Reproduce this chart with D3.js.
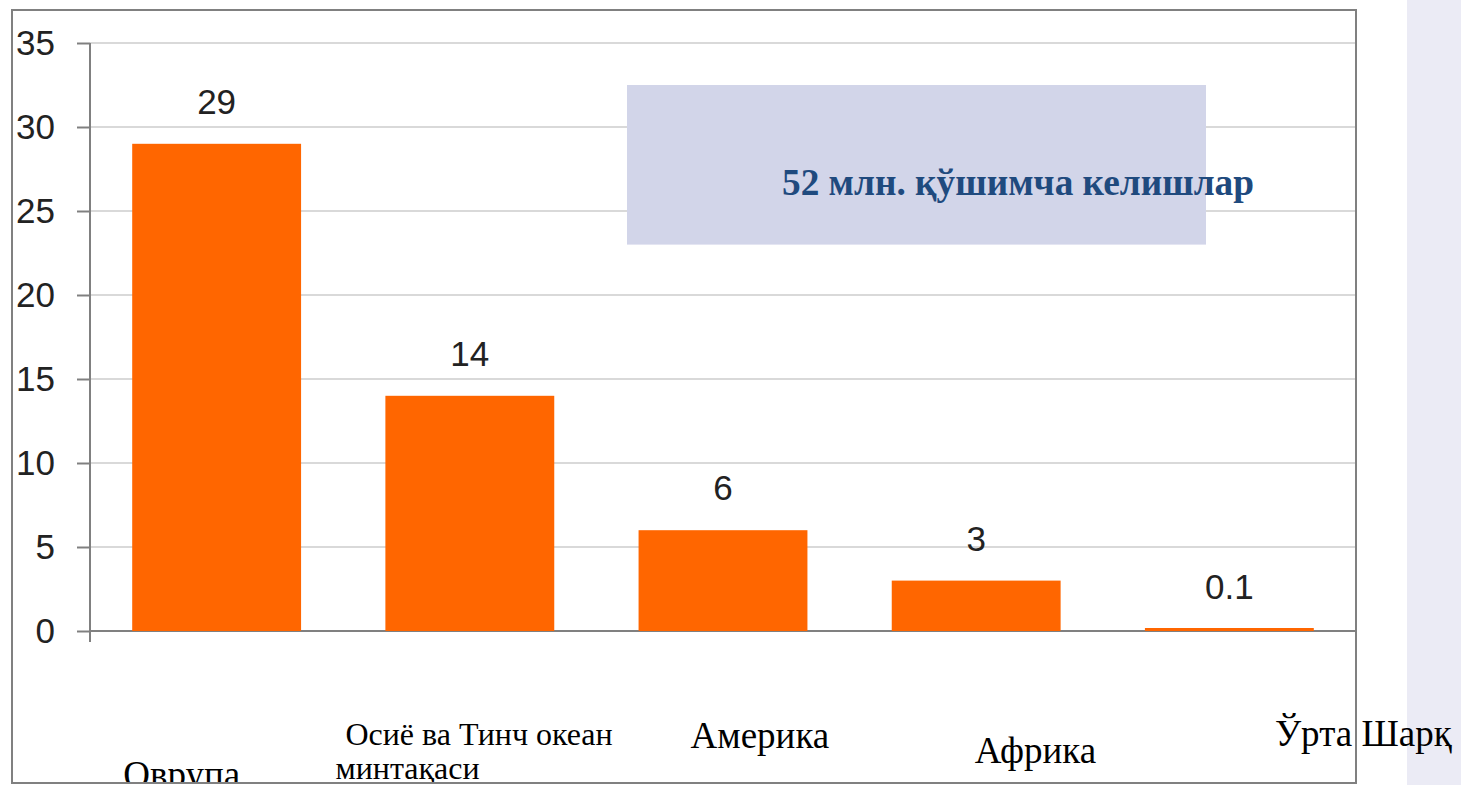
<!DOCTYPE html>
<html>
<head>
<meta charset="utf-8">
<script src="https://cdn.jsdelivr.net/npm/d3@7"></script>
<style>
  html, body { margin: 0; padding: 0; background: #fff; overflow: hidden; }
</style>
</head>
<body>
<div id="chart"></div>
<script>
// Chart data
const categories = ['Оврупа', 'Осиё ва Тинч океан минтақаси', 'Америка', 'Африка', 'Ўрта Шарқ'];
const values = [29, 14, 6, 3, 0.1];
const valueLabels = ['29', '14', '6', '3', '0.1'];
const yTicks = [0, 5, 10, 15, 20, 25, 30, 35];
const noteText = '52 млн. қўшимча келишлар';

// Category label lines (the second one wraps)
const labelLines = [
    ['Оврупа'],
    [' Осиё ва Тинч океан', 'минтақаси'],
    ['Америка'],
    ['Африка'],
    ['Ўрта Шарқ']
];
// Label placement, relative to the start of each band
const labelPlace = [
    [{dx: -9, y: 787}],
    [{dx: -48, y: 745}, {dx: -50, y: 779}],
    [{dx: 52, y: 748}],
    [{dx: 83, y: 763}],
    [{dx: 130, y: 746}]
];

const width = 1461, height = 785;
const frame = {left: 12, top: 10, right: 1356, bottom: 783};
const axisX = 90;

const svg = d3.select('#chart')
    .append('svg')
    .attr('width', width)
    .attr('height', height);

// light panel on the right
svg.append('rect')
    .attr('x', 1407).attr('y', 0)
    .attr('width', width - 1407).attr('height', height)
    .style('fill', '#ebebf5');

const x = d3.scaleBand()
    .domain(categories)
    .range([axisX, frame.right])
    .paddingInner(0.333)
    .paddingOuter(0.1667);

const y = d3.scaleLinear()
    .domain([0, 35])
    .range([631, 43]);

// gridlines
svg.append('g')
    .selectAll('line')
    .data(yTicks.filter(t => t > 0))
    .enter()
    .append('line')
    .attr('x1', axisX).attr('x2', frame.right)
    .attr('y1', d => y(d)).attr('y2', d => y(d))
    .style('stroke', '#d9d9d9')
    .style('stroke-width', 2);

// annotation box
svg.append('rect')
    .attr('x', 627).attr('y', y(32.5))
    .attr('width', 579).attr('height', y(23) - y(32.5))
    .style('fill', '#d2d5e9');

// y axis
const yAxis = d3.axisLeft(y)
    .tickValues(yTicks)
    .tickSize(13)
    .tickPadding(22)
    .tickFormat(d3.format('d'));

const gy = svg.append('g')
    .attr('transform', 'translate(' + axisX + ',0)')
    .call(yAxis);
gy.select('.domain').remove();
gy.selectAll('.tick line')
    .style('stroke', '#808080')
    .style('stroke-width', 2);
gy.selectAll('.tick text')
    .style('font-family', '"Liberation Sans", Arial, sans-serif')
    .style('font-size', '35px')
    .style('fill', '#222');

svg.append('line')
    .attr('x1', axisX).attr('x2', axisX)
    .attr('y1', y(35)).attr('y2', 642)
    .style('stroke', '#808080')
    .style('stroke-width', 2);

// baseline
svg.append('line')
    .attr('x1', axisX).attr('x2', frame.right)
    .attr('y1', y(0)).attr('y2', y(0))
    .style('stroke', '#808080')
    .style('stroke-width', 2);

// bars (over the baseline so the tiny one still shows)
svg.append('g')
    .selectAll('rect')
    .data(values)
    .enter()
    .append('rect')
    .attr('x', (d, i) => x(categories[i]))
    .attr('width', x.bandwidth())
    .attr('y', d => Math.min(y(d), y(0) - 3))
    .attr('height', d => Math.max(y(0) - y(d), 3))
    .style('fill', '#ff6600');

// value labels
svg.append('g')
    .selectAll('text')
    .data(values)
    .enter()
    .append('text')
    .attr('x', (d, i) => x(categories[i]) + x.bandwidth() / 2)
    .attr('y', d => y(d) - 30)
    .attr('text-anchor', 'middle')
    .style('font-family', '"Liberation Sans", Arial, sans-serif')
    .style('font-size', '35px')
    .style('fill', '#222')
    .text((d, i) => valueLabels[i]);

// note text
svg.append('text')
    .attr('x', 782).attr('y', 195)
    .style('font-family', '"Liberation Serif", "Times New Roman", serif')
    .style('font-weight', 'bold')
    .style('font-size', '37.3px')
    .style('fill', '#1f4a7e')
    .text(noteText);

// category labels, clipped at the frame bottom
svg.append('clipPath')
    .attr('id', 'clip')
    .append('rect')
    .attr('x', 0).attr('y', 0)
    .attr('width', width).attr('height', frame.bottom);

const cat = svg.append('g')
    .attr('clip-path', 'url(#clip)');

categories.forEach(function (c, i) {
    labelLines[i].forEach(function (line, j) {
        const p = labelPlace[i][j];
        cat.append('text')
            .attr('x', x(c) + p.dx)
            .attr('y', p.y)
            .attr('xml:space', 'preserve')
            .style('white-space', 'pre')
            .style('font-family', '"Liberation Serif", "Times New Roman", serif')
            .style('font-size', i === 1 ? '32px' : '37px')
            .style('fill', '#000')
            .text(line);
    });
});

// outer frame
svg.append('rect')
    .attr('x', frame.left).attr('y', frame.top)
    .attr('width', frame.right - frame.left)
    .attr('height', frame.bottom - frame.top)
    .style('fill', 'none')
    .style('stroke', '#808080')
    .style('stroke-width', 2);
</script>
</body>
</html>
